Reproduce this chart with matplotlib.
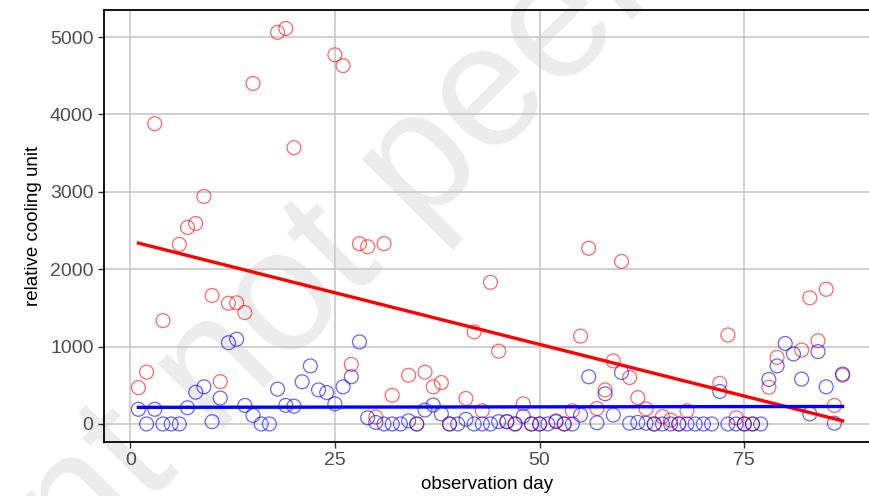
import numpy as np
import matplotlib.pyplot as plt

plt.rcParams['font.family'] = ['Liberation Sans', 'DejaVu Sans']

nan = np.nan

# observation days 1..87
days = np.arange(1, 88)

# red series (relative cooling unit), NaN where no point is drawn
red_vals = [470, 670, 3880, 1335, nan, 2320, 2540, 2590, 2940, 1660,
            547, 1560, 1565, 1440, 4400, nan, nan, 5060, 5110, 3570,
            nan, nan, nan, nan, 4770, 4630, 770, 2330, 2290, 90,
            2330, 370, nan, 630, 0, 670, 480, 535, 0, nan,
            330, 1190, 170, 1830, 940, 30, 0, 260, 0, 0,
            nan, 40, 0, 170, 1135, 2270, 200, 440, 815, 2100,
            600, 340, 195, 0, 95, 50, 0, 170, nan, nan,
            nan, 525, 1150, 80, 0, 0, nan, 475, 860, nan,
            nan, 955, 1630, 1075, 1740, 240, 630]

# blue series
blue_vals = [190, 0, 190, 0, 0, 0, 210, 410, 480, 30,
             335, 1050, 1095, 240, 110, 0, 0, 450, 240, 230,
             545, 750, 440, 405, 260, 480, 610, 1060, 80, 20,
             0, 0, 0, 40, 0, 180, 245, 130, 0, 0,
             60, 0, 0, 0, 30, 30, 0, 100, 0, 0,
             0, 30, 0, 0, 115, 610, 15, 390, 115, 665,
             10, 20, 10, 0, 0, 0, 0, 0, 0, 0,
             0, 420, 0, 0, 0, 0, 0, 575, 750, 1040,
             905, 580, 130, 935, 480, 10, 645]

red = np.array(red_vals, dtype=float)
blue = np.array(blue_vals, dtype=float)

fig = plt.figure(figsize=(8.7, 4.96), dpi=100)
ax = fig.add_axes([104 / 870, 54 / 496, 1 - 104 / 870, 432 / 496])

# watermark behind the axes (runs off the figure edges, as in the original)
fig.text(0.516, 0.72, 'preprint not peer-reviewed', fontsize=125, color='#ececec',
         rotation=45, ha='center', va='center', zorder=-5)
ax.patch.set_alpha(0)

# grid
ax.grid(True, color='#c8c8c8', linewidth=1.2)
ax.set_axisbelow(True)

ax.scatter(days, red, s=100, facecolors='none', edgecolors='#ff0000',
           linewidths=0.9, alpha=0.6, zorder=3)
ax.scatter(days, blue, s=100, facecolors='none', edgecolors='#0000ff',
           linewidths=0.9, alpha=0.6, zorder=3)

# linear fits
for vals, col in [(red, '#ff0000'), (blue, '#0000ff')]:
    ok = ~np.isnan(vals)
    k, b = np.polyfit(days[ok], vals[ok], 1)
    xs = np.array([days.min(), days.max()])
    ax.plot(xs, k * xs + b, color=col, linewidth=2.4, zorder=4)

ax.set_xlim(-3.2, 90.35)
ax.set_ylim(-233, 5349)
ax.set_xticks([0, 25, 50, 75])
ax.set_yticks([0, 1000, 2000, 3000, 4000, 5000])
ax.tick_params(colors='#333333', labelcolor='#4d4d4d', labelsize=14, length=4, width=1)
ax.set_xlabel('observation day', fontsize=13.5, labelpad=5)
ax.set_ylabel('relative cooling unit', fontsize=13.5, labelpad=6)

for s in ['left', 'top', 'bottom']:
    ax.spines[s].set_color('black')
    ax.spines[s].set_linewidth(1.3)
ax.spines['right'].set_visible(False)

fig.savefig('out.png', dpi=100)
